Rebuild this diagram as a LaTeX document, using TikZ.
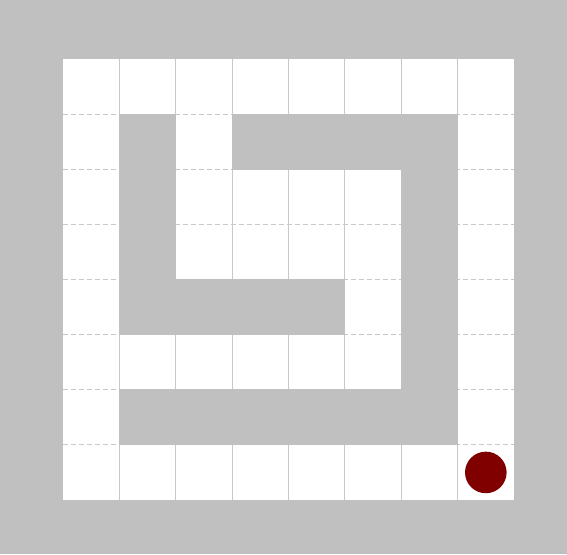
\documentclass[tikz,border=0pt]{standalone}
\definecolor{wallgray}{HTML}{C0C0C0}
\definecolor{gridgray}{HTML}{C8C8C8}
\definecolor{agent}{HTML}{800000}
\tikzset{
  wall/.style={fill=wallgray, draw=none},
  gridline/.style={draw=gridgray, line width=0.9pt, dash pattern=on 5pt off 3pt},
  vgridline/.style={draw=gridgray, line width=0.9pt},
  agentdot/.style={circle, fill=agent, draw=none, minimum size=41.6pt, inner sep=0pt}
}
\begin{document}
\begin{tikzpicture}[x=1pt, y=-1pt]
\useasboundingbox (0,0) rectangle (567,554);
\fill[wallgray] (0,0) rectangle (567,554);
% cell geometry
\def\xo{63}\def\yo{59}\def\cw{56.375}\def\ch{55.125}
\fill[white] (\xo,\yo) rectangle (514,500);
% grid lines
\foreach \i in {1,...,7} {
  \draw[vgridline] ({\xo+\i*\cw},\yo) -- ({\xo+\i*\cw},500);
  \draw[gridline] (\xo,{\yo+\i*\ch}) -- (514,{\yo+\i*\ch});
}
% walls: (col,row)
\foreach \c/\r in {1/1,3/1,4/1,5/1,6/1,
                   1/2,6/2,
                   1/3,6/3,
                   1/4,2/4,3/4,4/4,6/4,
                   6/5,
                   1/6,2/6,3/6,4/6,5/6,6/6} {
  \fill[wall] ({\xo+\c*\cw-0.3},{\yo+\r*\ch-0.3}) rectangle ({\xo+(\c+1)*\cw+0.3},{\yo+(\r+1)*\ch+0.3});
}
\node[agentdot] (agent) at ({\xo+7.5*\cw},{\yo+7.5*\ch}) {};
\end{tikzpicture}
\end{document}
